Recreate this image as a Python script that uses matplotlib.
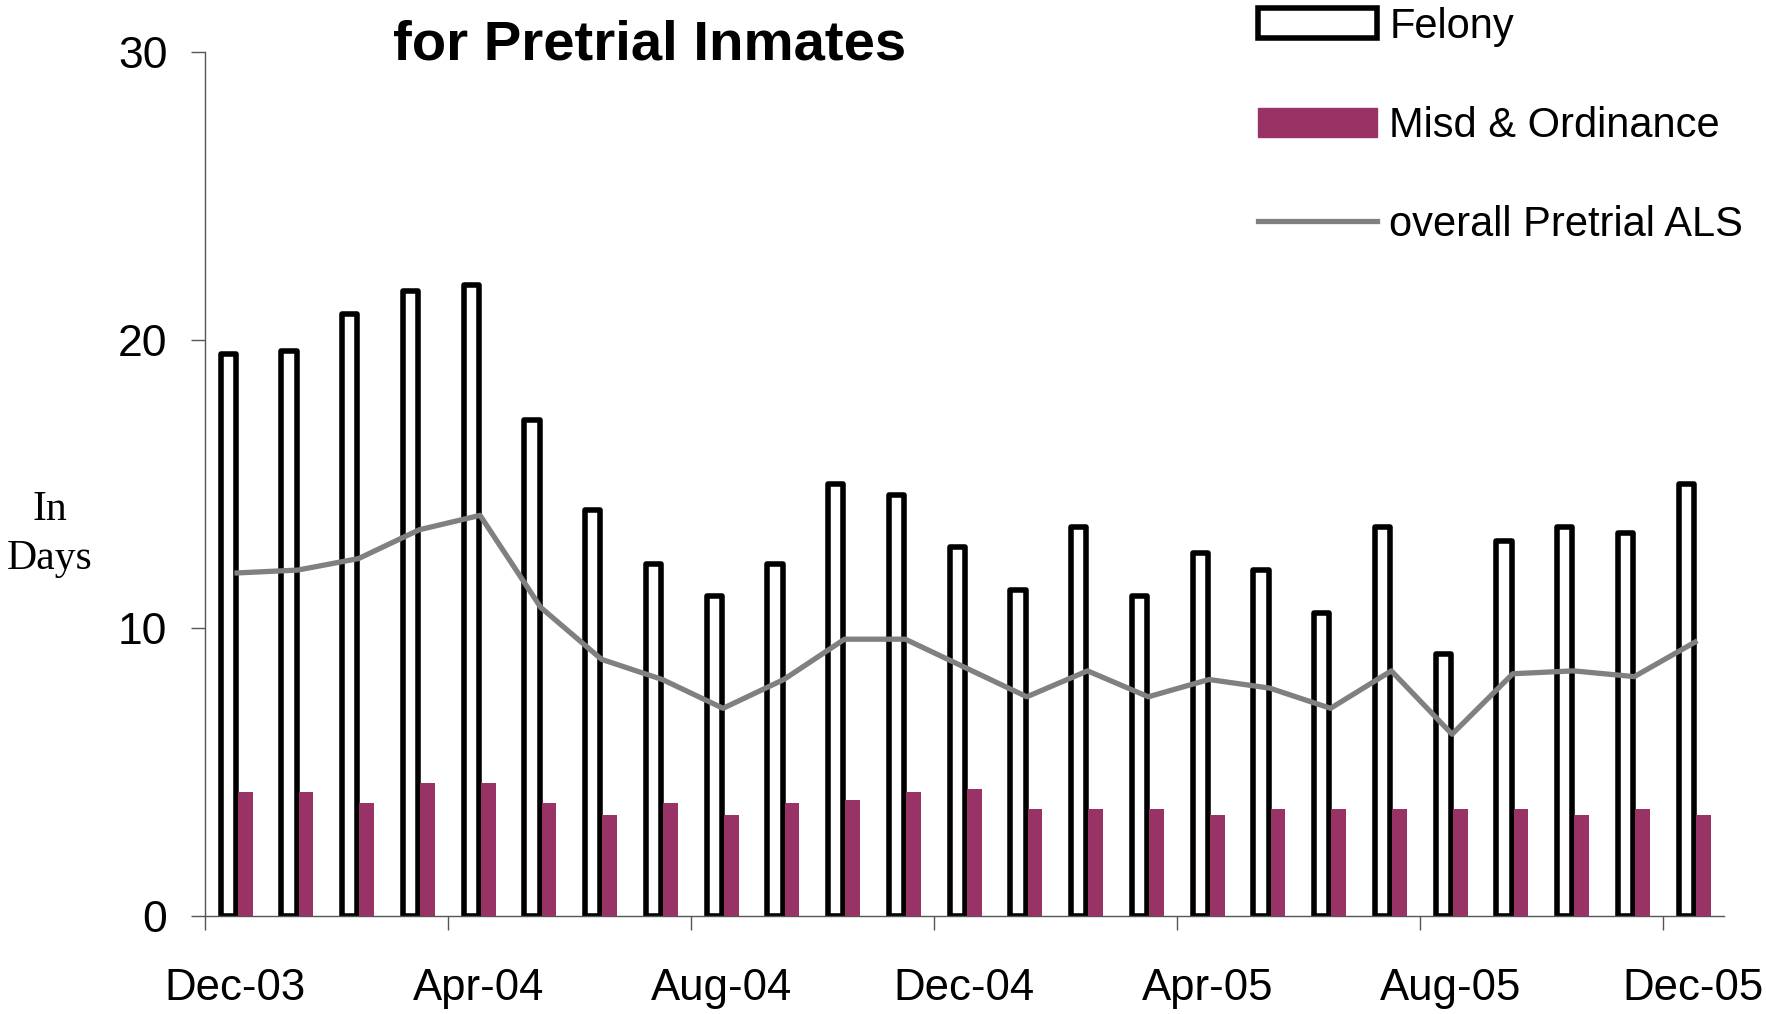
import numpy as np
import matplotlib
matplotlib.use("Agg")
import matplotlib.pyplot as plt
from matplotlib.patches import Patch
from matplotlib.lines import Line2D

# monthly average length of stay, Dec-03 .. Dec-05
months = ['Dec-03', 'Jan-04', 'Feb-04', 'Mar-04', 'Apr-04', 'May-04', 'Jun-04',
          'Jul-04', 'Aug-04', 'Sep-04', 'Oct-04', 'Nov-04', 'Dec-04', 'Jan-05',
          'Feb-05', 'Mar-05', 'Apr-05', 'May-05', 'Jun-05', 'Jul-05', 'Aug-05',
          'Sep-05', 'Oct-05', 'Nov-05', 'Dec-05']
felony = [19.5, 19.6, 20.9, 21.7, 21.9, 17.2, 14.1, 12.2, 11.1, 12.2, 15.0, 14.6,
          12.8, 11.3, 13.5, 11.1, 12.6, 12.0, 10.5, 13.5, 9.1, 13.0, 13.5, 13.3, 15.0]
misd = [4.3, 4.3, 3.9, 4.6, 4.6, 3.9, 3.5, 3.9, 3.5, 3.9, 4.0, 4.3,
        4.4, 3.7, 3.7, 3.7, 3.5, 3.7, 3.7, 3.7, 3.7, 3.7, 3.5, 3.7, 3.5]
overall = [11.9, 12.0, 12.4, 13.4, 13.9, 10.7, 8.9, 8.2, 7.2, 8.2, 9.6, 9.6,
           8.6, 7.6, 8.5, 7.6, 8.2, 7.9, 7.2, 8.5, 6.3, 8.4, 8.5, 8.3, 9.5]

sans = ['Liberation Sans', 'DejaVu Sans']
plum = '#993366'
grey = '#808080'

fig = plt.figure(figsize=(17.66, 10.14), dpi=100)
ax = fig.add_axes([0.116, 0.097, 0.86, 0.852])

x = np.arange(len(months))
ax.bar(x - 0.115, felony, width=0.25, facecolor='white', edgecolor='black',
       linewidth=4, joinstyle='round', zorder=2)
ax.bar(x + 0.165, misd, width=0.24, color=plum, zorder=3)
ax.plot(x + 0.03, overall, color=grey, linewidth=3.8, zorder=4)

ax.set_xlim(-0.5, len(months) - 0.5)
ax.set_ylim(0, 30)

for s in ['top', 'right']:
    ax.spines[s].set_visible(False)
for s in ['left', 'bottom']:
    ax.spines[s].set_color('#555555')
    ax.spines[s].set_linewidth(1)

ax.set_yticks([0, 10, 20, 30])
ax.set_yticklabels(['0', '10', '20', '30'], family=sans, fontsize=32)
ax.tick_params(axis='y', length=10, width=1, color='#555555', pad=17)

# labels under every 4th month, tick marks on the category boundaries
ax.set_xticks(x[::4])
ax.set_xticklabels(months[::4], family=sans, fontsize=31.5)
ax.set_xticks(x[::4] - 0.5, minor=True)
ax.tick_params(axis='x', which='major', length=0, pad=38)
ax.tick_params(axis='x', which='minor', length=10, width=1, color='#555555')

fig.text(0.028, 0.473, 'In\nDays', family=['Liberation Serif', 'DejaVu Serif'],
         fontsize=30, ha='center', va='center', linespacing=1.35)
fig.text(0.368, 0.955, 'for Pretrial Inmates', family=sans, fontweight='bold',
         fontsize=40.5, ha='center', va='center')

handles = [Patch(facecolor='white', edgecolor='black', linewidth=4),
           Patch(facecolor=plum, edgecolor=plum),
           Line2D([0], [0], color=grey, linewidth=3.8)]
labels = ['Felony', 'Misd & Ordinance', 'overall Pretrial ALS']
leg = fig.legend(handles, labels, loc='upper left', bbox_to_anchor=(0.7005, 1.014),
                 frameon=False, borderpad=0, handlelength=2.85, handleheight=0.7,
                 handletextpad=0.3, labelspacing=1.42,
                 prop={'family': sans, 'size': 30})

fig.savefig('out.png', dpi=100)
